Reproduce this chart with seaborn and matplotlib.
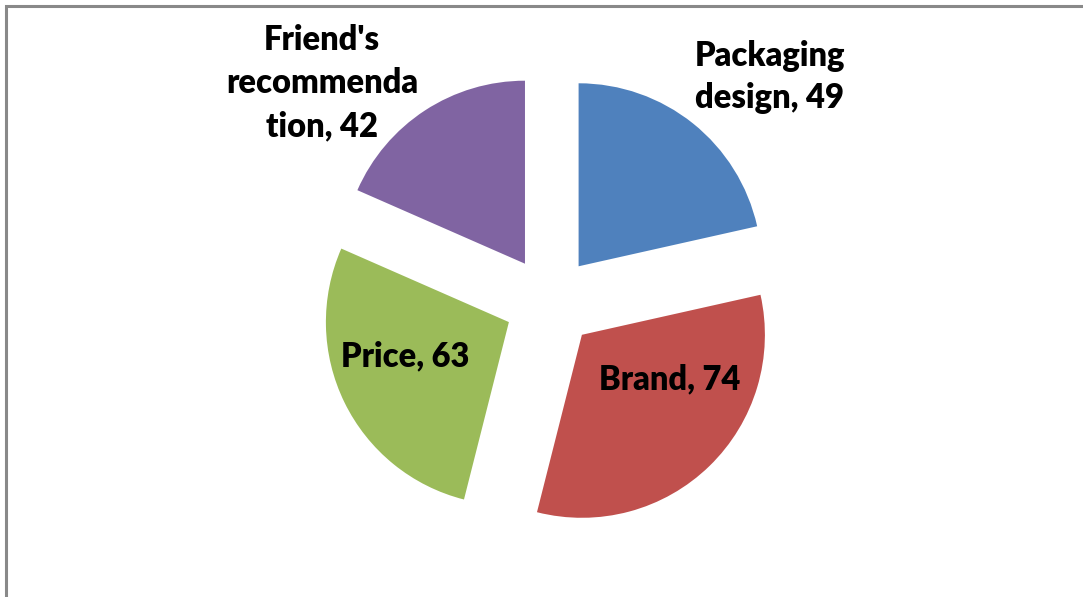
import matplotlib
matplotlib.use("Agg")
import matplotlib.pyplot as plt
from matplotlib.patches import Rectangle
import seaborn as sns

# Survey: factors influencing purchase decisions
categories = ["Packaging\ndesign", "Brand", "Price", "Friend's\nrecommenda\ntion"]
values = [49, 74, 63, 42]
slice_colors = ["#4F81BD", "#C0504D", "#9BBB59", "#8064A2"]

sns.set_theme(style="white")
plt.rcParams["font.family"] = ["Lato", "DejaVu Sans"]

W, H, DPI = 1083, 597, 100
fig = plt.figure(figsize=(W / DPI, H / DPI), dpi=DPI)
ax = fig.add_axes([0, 0, 1, 1])

# pie centre and radius in pixels
cx, cy, rpx = 550, 302, 183

ax.pie(values, colors=slice_colors, startangle=90, counterclock=False,
       explode=[0.25] * len(values), radius=1.0, center=(0, 0),
       wedgeprops=dict(linewidth=0), frame=True)
ax.set_xlim(-cx / rpx, (W - cx) / rpx)
ax.set_ylim(-(H - cy) / rpx, cy / rpx)
ax.set_aspect("equal")
ax.axis("off")

# label anchors (pixel positions of the text block centres)
label_px = [(770, 77), (670, 379), (405, 356), (322, 83)]
for cat, val, (px, py) in zip(categories, values, label_px):
    ax.text((px - cx) / rpx, (cy - py) / rpx, f"{cat}, {val}",
            ha="center", va="center", fontsize=23.5, fontweight="heavy",
            color="black", linespacing=1.42)

# outer chart frame
fig.patches.append(Rectangle((6 / W, -0.1), 1.2, 1 - 6 / H + 0.1,
                             transform=fig.transFigure, fill=False,
                             edgecolor="#898989", linewidth=2.2))

fig.savefig("out.png", dpi=DPI, facecolor="white")
